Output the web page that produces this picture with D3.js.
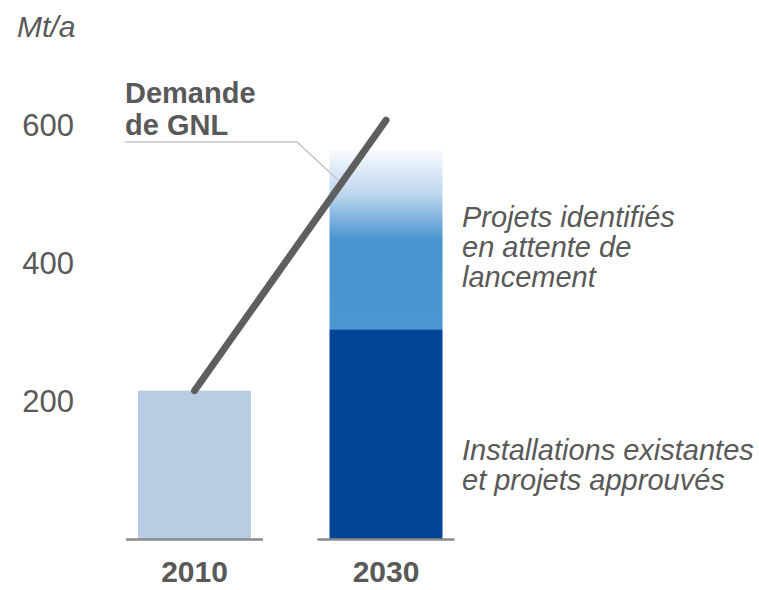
<!DOCTYPE html>
<html>
<head>
<meta charset="utf-8">
<script src="https://cdn.jsdelivr.net/npm/d3@7"></script>
<style>
  body { margin: 0; background: #fff; overflow: hidden; }
  svg { display: block; }
  text { font-family: "Liberation Sans", Arial, sans-serif; fill: #595959; }
</style>
</head>
<body>
<svg id="chart"></svg>
<script>
// values (Mt/a)
let years = ["2010", "2030"];
let existing = [215, 304];   // 2010 capacity, 2030 existing + approved
let pending = [0, 260];      // identified projects waiting for launch
let demand = [215, 607];     // LNG demand line
let yTicks = [200, 400, 600];

function createChart() {
    let w = 759, h = 590;
    let svg = d3.select("#chart")
        .attr("width", w)
        .attr("height", h);

    let y = d3.scaleLinear().domain([0, 600]).range([539, 125]);
    let x = d3.scalePoint().domain(years).range([194.5, 386]);
    let barW = 113;

    let defs = svg.append("defs");
    let grad = defs.append("linearGradient")
        .attr("id", "fade")
        .attr("x1", 0).attr("y1", 0).attr("x2", 0).attr("y2", 1);
    grad.append("stop").attr("offset", 0).attr("stop-color", "#f8fbfe");
    grad.append("stop").attr("offset", 0.25).attr("stop-color", "#bcd6ee");
    grad.append("stop").attr("offset", 0.5).attr("stop-color", "#4a94cf");
    grad.append("stop").attr("offset", 1).attr("stop-color", "#4a96d0");

    // unit
    svg.append("text")
        .attr("x", 17).attr("y", 37)
        .attr("font-size", 30)
        .attr("font-style", "italic")
        .text("Mt/a");

    // y tick labels
    svg.selectAll(".tick")
        .data(yTicks)
        .enter()
        .append("text")
        .attr("class", "tick")
        .attr("x", 74)
        .attr("y", d => y(d))
        .attr("dy", "0.36em")
        .attr("text-anchor", "end")
        .attr("font-size", 31)
        .text(d => d);

    // bars
    svg.selectAll(".base")
        .data(years)
        .enter()
        .append("rect")
        .attr("x", d => x(d) - barW / 2)
        .attr("width", barW)
        .attr("y", (d, i) => y(existing[i]))
        .attr("height", (d, i) => y(0) - y(existing[i]))
        .attr("fill", (d, i) => i == 0 ? "#b8cce4" : "#024596");

    svg.selectAll(".pend")
        .data(years.filter((d, i) => pending[i] > 0))
        .enter()
        .append("rect")
        .attr("x", d => x(d) - barW / 2)
        .attr("width", barW)
        .attr("y", d => y(existing[years.indexOf(d)] + pending[years.indexOf(d)]))
        .attr("height", d => y(existing[years.indexOf(d)]) - y(existing[years.indexOf(d)] + pending[years.indexOf(d)]))
        .attr("fill", "url(#fade)");

    // baselines
    svg.selectAll(".baseline")
        .data(years)
        .enter()
        .append("line")
        .attr("x1", d => x(d) - barW / 2 - 12)
        .attr("x2", d => x(d) + barW / 2 + 12)
        .attr("y1", y(0) + 0.5)
        .attr("y2", y(0) + 0.5)
        .attr("stroke", "#8a8a8a")
        .attr("stroke-width", 2.5);

    // year labels
    svg.selectAll(".year")
        .data(years)
        .enter()
        .append("text")
        .attr("x", d => x(d))
        .attr("y", 582)
        .attr("text-anchor", "middle")
        .attr("font-size", 30)
        .attr("font-weight", "bold")
        .text(d => d);

    // leader for demand label
    svg.append("polyline")
        .attr("points", "125,142 297,142 338,180")
        .attr("fill", "none")
        .attr("stroke", "#c4c4c4")
        .attr("stroke-width", 1.5);

    // demand line
    let line = d3.line()
        .x((d, i) => x(years[i]))
        .y(d => y(d));
    svg.append("path")
        .attr("d", line(demand))
        .attr("fill", "none")
        .attr("stroke", "#5e5e5e")
        .attr("stroke-width", 7)
        .attr("stroke-linecap", "round");

    // demand label
    let dl = svg.append("text")
        .attr("font-size", 29)
        .attr("font-weight", "bold");
    dl.append("tspan").attr("x", 125).attr("y", 103).text("Demande");
    dl.append("tspan").attr("x", 125).attr("y", 135).text("de GNL");

    // right annotations
    let top = svg.append("text")
        .attr("font-size", 29)
        .attr("font-style", "italic");
    ["Projets identifiés", "en attente de", "lancement"].forEach((t, i) => {
        top.append("tspan").attr("x", 462).attr("y", 227 + i * 30).text(t);
    });
    let bot = svg.append("text")
        .attr("font-size", 29)
        .attr("font-style", "italic");
    ["Installations existantes", "et projets approuvés"].forEach((t, i) => {
        bot.append("tspan").attr("x", 462).attr("y", 460 + i * 30).text(t);
    });
}

window.onload = function() {
    createChart();
}
</script>
</body>
</html>
